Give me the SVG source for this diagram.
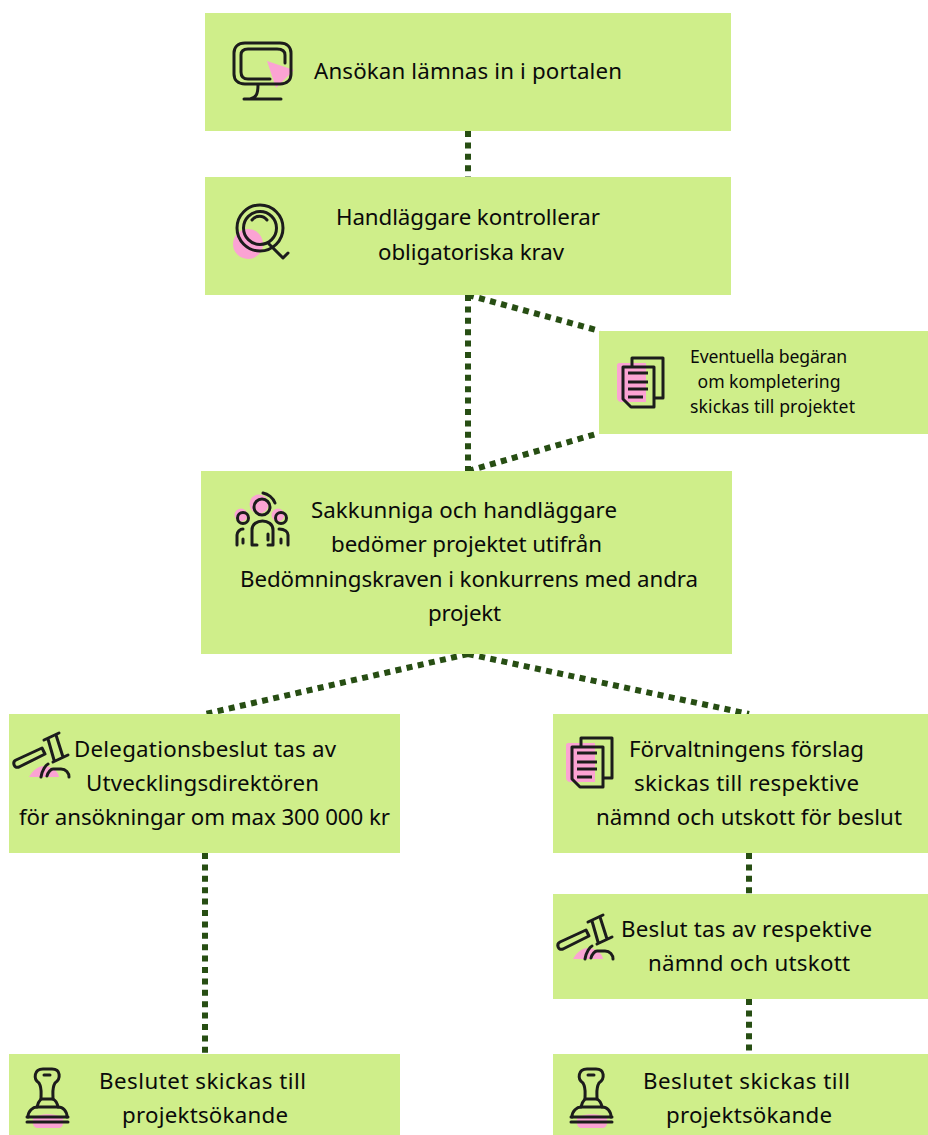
<svg xmlns="http://www.w3.org/2000/svg" width="928" height="1135" viewBox="0 0 928 1135">
<style>
.box{fill:#cfee8a}
.t{font-family:"Noto Sans","Liberation Sans",sans-serif;font-size:22.3px;fill:#0a0a0a;text-anchor:middle}
.s{font-size:17.6px}
.c{fill:none;stroke:#274e13;stroke-width:6;stroke-dasharray:6 5.4}
.i{fill:none;stroke:#1c1c1c;stroke-width:3;stroke-linecap:round;stroke-linejoin:round}
.b{stroke-linecap:butt}
.p{fill:#fba3d3}
</style>
<defs>
<g id="doc">
<path class="p" d="M-18 -3C-18 -4 -17 -5 -16 -5H11V34H-14C-16 34 -18 32 -18 30Z"/>
<path class="i b" d="M-3 -1V-10H28V30H19"/>
<path class="i b" d="M-12 -1H19V39H-4L-12 31Z"/>
<path class="i b" d="M-7 5H13M-7 14H13M-7 21H13M-7 29H8"/>
</g>
<g id="gavel">
<path class="p" d="M19 54C23 47 28 43 34 43C42 43 48 48 49 54Z"/>
<path class="i" d="M6 37L32 25L35 31L9 44C4 46 2 39 6 37Z"/>
<path class="i" d="M34 17L49 10M43 39L58 32M38 16L44 37M46 12L53 34"/>
<path class="i" d="M31 54C32 47 36 42 38 41M37 53C38 49 41 46 43 46H51C56 46 59 50 59 54"/>
</g>
<g id="stamp">
<path class="p" d="M-14 63C-8 58 10 58 16 63V68C16 71 14 73 11 73H-9C-12 73 -14 71 -14 68Z"/>
<path class="i" d="M-6 44C-6 36 -5 33 -8 28C-14 24 -13 14 -4 14H5C14 14 14 24 8 28C5 33 6 36 6 44"/>
<path class="i" d="M-3 20H3"/>
<path class="i" d="M-10 52C-9 47 -7 45 -6 44H6C8 45 10 47 11 52"/>
<path class="i" d="M-19 62C-19 56 -14 52 -10 52H11C16 52 20 56 20 62"/>
<path class="i" d="M-20 62H21M-20 67H21"/>
</g>
</defs>
<g id="connectors">
<path class="c" d="M468 131V177"/>
<path class="c" d="M468 295V471"/>
<path class="c" d="M468 295L600 331"/>
<path class="c" d="M468 471L596 434"/>
<path class="c" d="M468 654L205 714"/>
<path class="c" d="M468 654L749 714"/>
<path class="c" d="M205 853V1054"/>
<path class="c" d="M749 853V894"/>
<path class="c" d="M749 999V1054"/>
</g>
<g id="n1">
<rect class="box" x="205" y="13" width="526" height="118"/>
<path class="p" d="M267 61L294 70L276 88Z"/>
<path class="i" d="M270 84H245C238 84 234 80 234 74V53C234 47 238 43 245 43H280C287 43 291 47 291 53V74C291 80 287 84 280 84H268"/>
<path class="i" d="M270 79H248C243 79 241 76 241 72V55C241 51 243 49 248 49H277C282 49 285 51 285 55V63"/>
<path class="i" d="M258 85C258 94 256 98 250 99M244 99H281"/>
<text class="t" x="468" y="79" textLength="308">Ansökan lämnas in i portalen</text>
</g>
<g id="n2">
<rect class="box" x="205" y="177" width="526" height="118"/>
<circle class="p" cx="248" cy="244" r="15"/>
<circle class="i" cx="260" cy="228" r="23"/>
<circle class="i" cx="260" cy="228" r="16.5"/>
<path class="i" d="M252 220C256 215 263 215 267 220"/>
<path class="i" d="M269 244L283 258L288 253"/>
<text class="t" x="468" y="225" textLength="264">Handläggare kontrollerar</text>
<text class="t" x="471" y="260" textLength="186">obligatoriska krav</text>
</g>
<g id="n3">
<rect class="box" x="599" y="331" width="329" height="103"/>
<use href="#doc" x="635" y="368"/>
<text class="t s" x="768.500" y="363" textLength="157">Eventuella begäran</text>
<text class="t s" x="769" y="388" textLength="143">om kompletering</text>
<text class="t s" x="772.500" y="413" textLength="165">skickas till projektet</text>
</g>
<g id="n4">
<rect class="box" x="201" y="471" width="531" height="183"/>
<circle class="p" cx="259" cy="504" r="9.500"/>
<circle class="p" cx="241" cy="515" r="6.500"/>
<circle class="p" cx="278" cy="515" r="6.500"/>
<circle class="i" cx="262" cy="507" r="8"/>
<circle class="i" cx="243" cy="518" r="5.500"/>
<circle class="i" cx="281" cy="518" r="5.500"/>
<path class="i" d="M263 493C268 494 273 498 275 503"/>
<path class="i" d="M252 545V530C252 518 273 518 273 530V545H268M252 545H257M268 534V540"/>
<path class="i" d="M237 545V535C237 532 240 529 243 529M243 539V543"/>
<path class="i" d="M288 545V535C288 532 285 529 279 529M281 539V543"/>
<text class="t" x="464" y="518" textLength="306">Sakkunniga och handläggare</text>
<text class="t" x="466.500" y="552" textLength="271">bedömer projektet utifrån</text>
<text class="t" x="469" y="587" textLength="458">Bedömningskraven i konkurrens med andra</text>
<text class="t" x="464.500" y="621" textLength="73">projekt</text>
</g>
<g id="n5">
<rect class="box" x="9" y="714" width="391" height="139"/>
<use href="#gavel" x="10" y="723"/>
<text class="t" x="205" y="757" textLength="262">Delegationsbeslut tas av</text>
<text class="t" x="202.500" y="791" textLength="233">Utvecklingsdirektören</text>
<text class="t" x="204.500" y="825" textLength="371">för ansökningar om max 300 000 kr</text>
</g>
<g id="n6">
<rect class="box" x="553" y="714" width="375" height="139"/>
<use href="#doc" x="584" y="748"/>
<text class="t" x="746.500" y="757" textLength="235">Förvaltningens förslag</text>
<text class="t" x="746.500" y="791" textLength="225">skickas till respektive</text>
<text class="t" x="749" y="825" textLength="306">nämnd och utskott för beslut</text>
</g>
<g id="n7">
<rect class="box" x="553" y="894" width="375" height="105"/>
<use href="#gavel" x="554" y="905"/>
<text class="t" x="746.500" y="937" textLength="251">Beslut tas av respektive</text>
<text class="t" x="749" y="971" textLength="202">nämnd och utskott</text>
</g>
<g id="n8">
<rect class="box" x="9" y="1054" width="391" height="81"/>
<use href="#stamp" x="47" y="1055"/>
<text class="t" x="202.500" y="1089" textLength="207">Beslutet skickas till</text>
<text class="t" x="205" y="1123" textLength="166">projektsökande</text>
</g>
<g id="n9">
<rect class="box" x="553" y="1054" width="375" height="81"/>
<use href="#stamp" x="591" y="1055"/>
<text class="t" x="746.500" y="1089" textLength="207">Beslutet skickas till</text>
<text class="t" x="749" y="1123" textLength="166">projektsökande</text>
</g>
</svg>
